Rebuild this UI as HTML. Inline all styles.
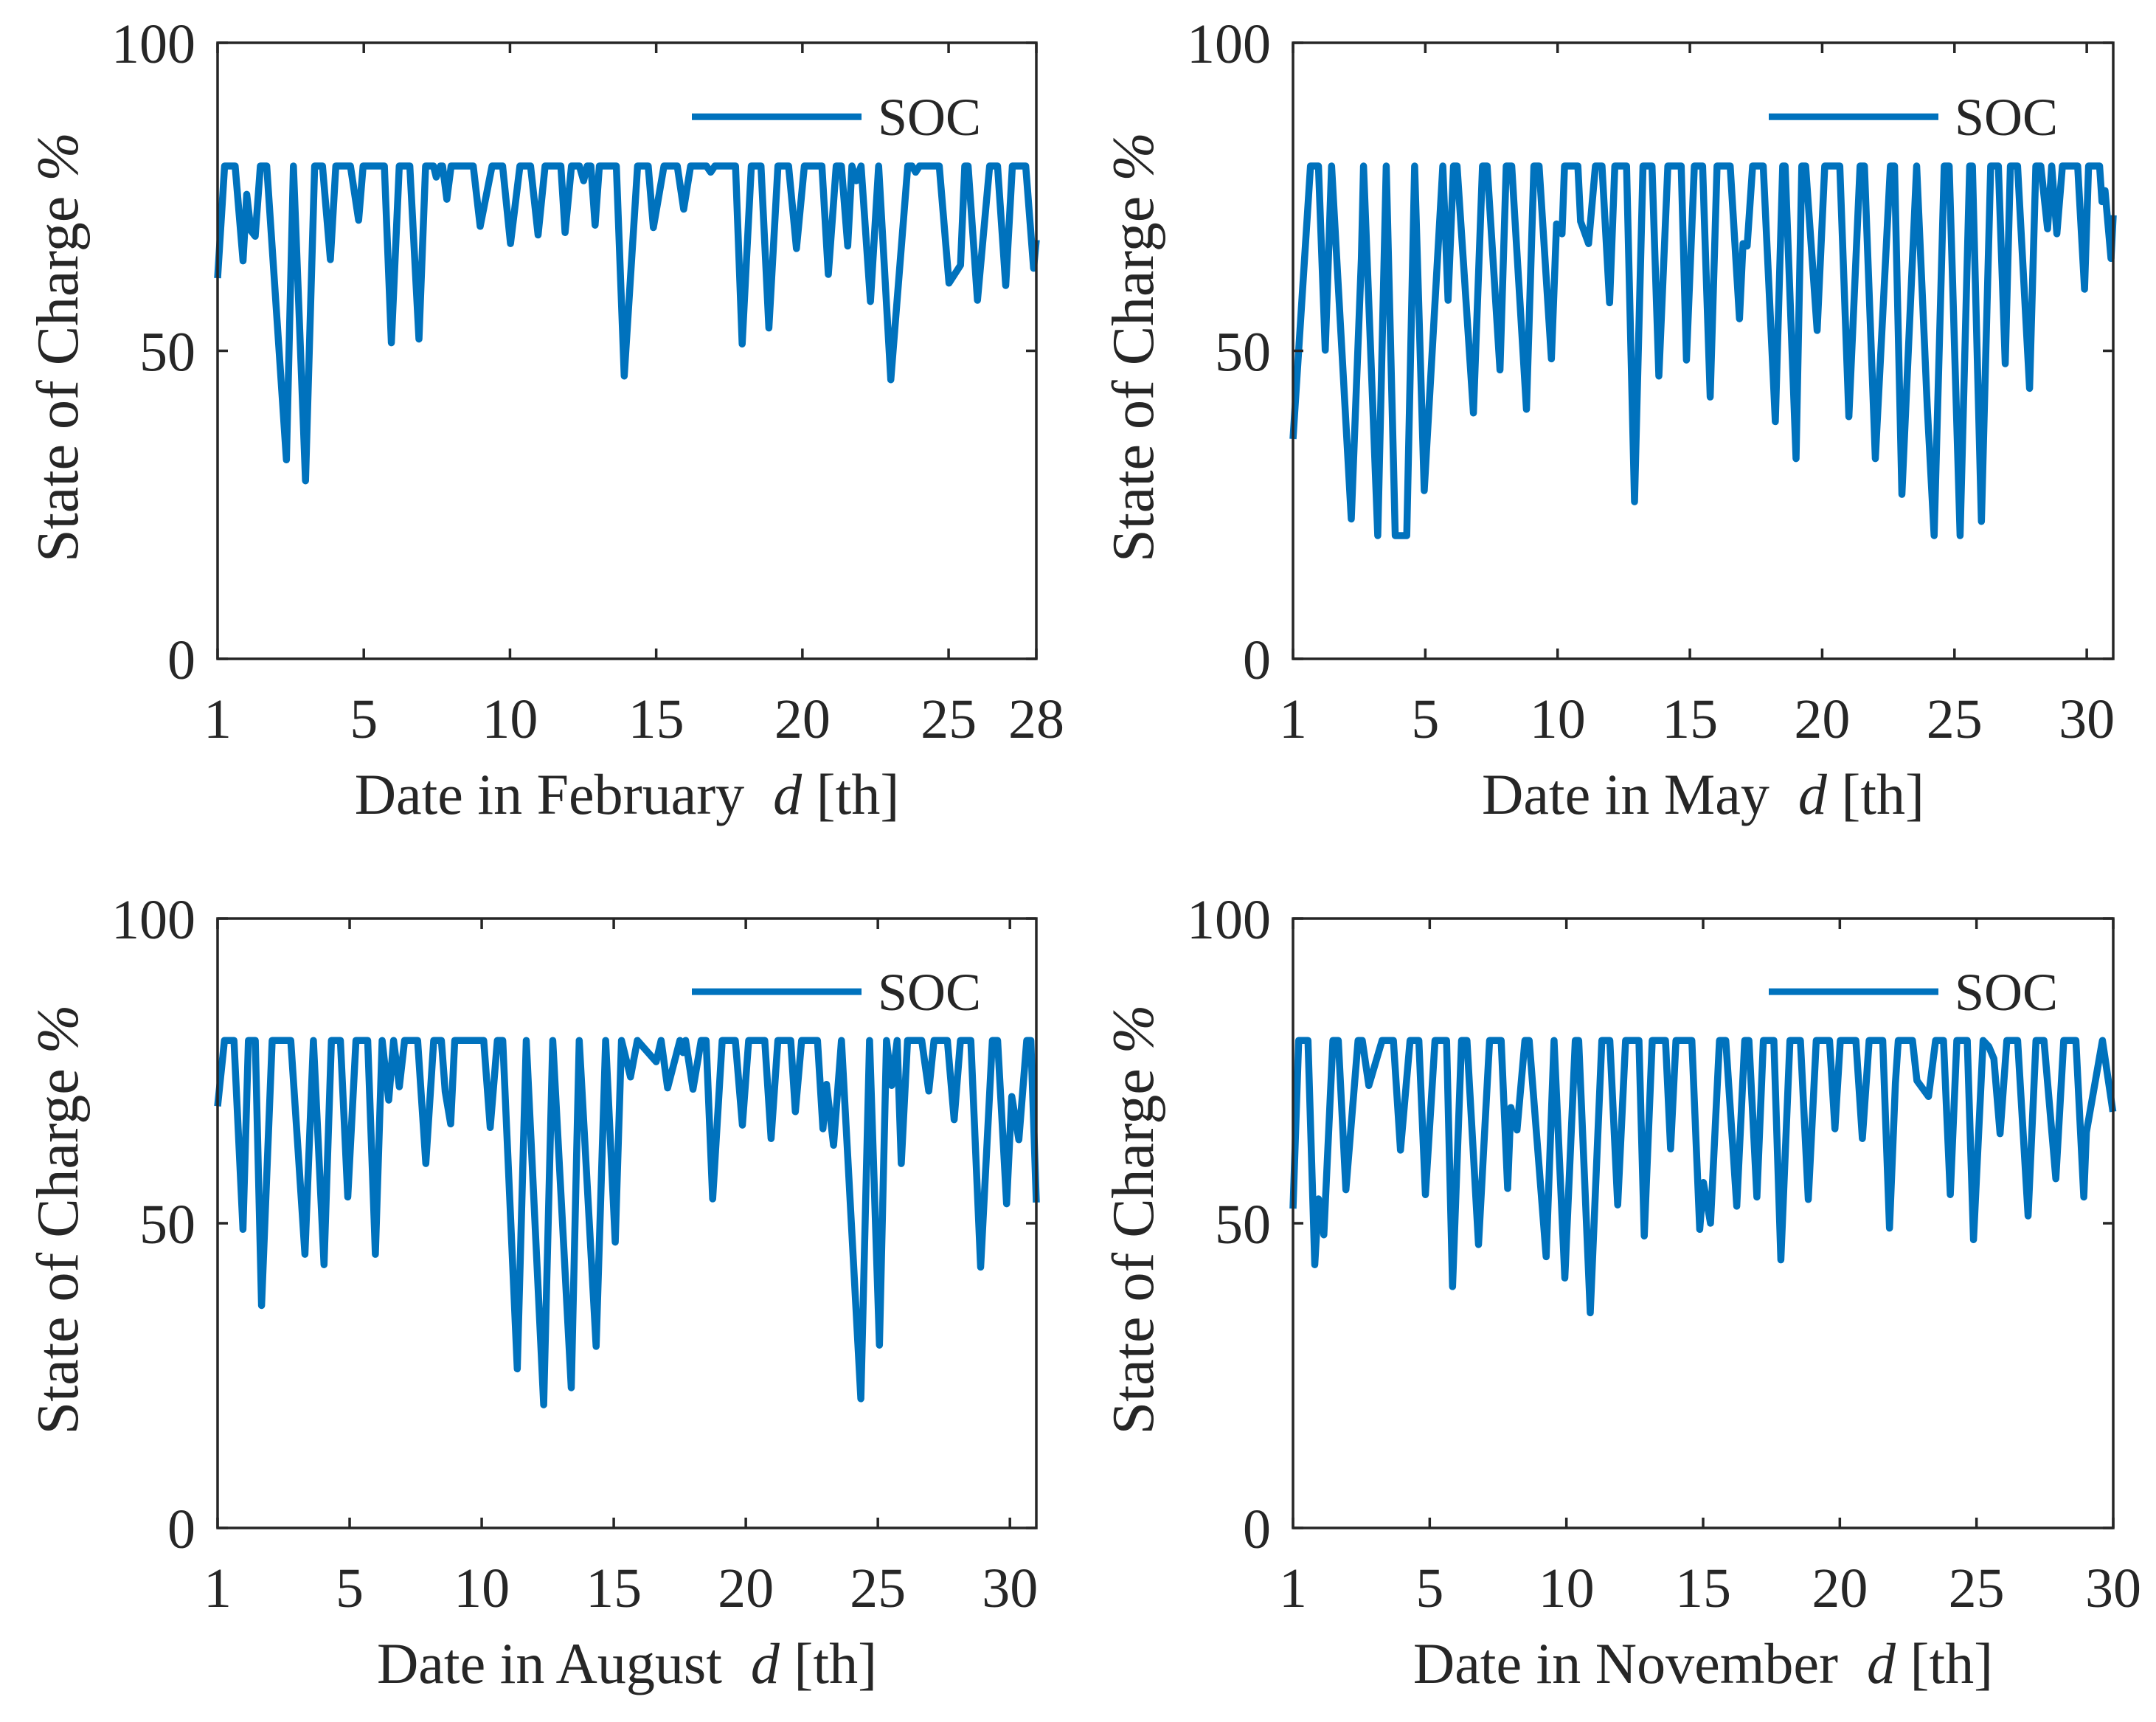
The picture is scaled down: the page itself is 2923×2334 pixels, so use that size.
<!DOCTYPE html>
<html><head><meta charset="utf-8">
<style>
html,body{margin:0;padding:0;background:#fff;}
svg{display:block;}
text{font-family:"Liberation Serif",serif;fill:#262626;}
</style></head>
<body>
<svg id="fig" width="2923" height="2334" viewBox="0 0 2923 2334" xmlns="http://www.w3.org/2000/svg"></svg>
<script>
const febDays=[1.0,1.23,1.58,1.84,1.96,2.1,2.24,2.41,2.62,3.27,3.5,3.9,4.2,4.46,4.72,4.9,5.38,5.65,5.8,6.5,6.73,6.99,7.34,7.64,7.86,8.12,8.21,8.35,8.42,8.56,8.7,9.43,9.66,10.05,10.4,10.66,10.97,11.32,11.57,11.8,12.32,12.46,12.67,12.93,13.07,13.19,13.31,13.45,13.59,14.15,14.41,14.85,15.2,15.37,15.72,16.16,16.37,16.6,17.12,17.26,17.4,18.08,18.3,18.6,18.92,19.18,19.48,19.83,20.09,20.35,20.93,21.14,21.4,21.57,21.78,21.92,22.06,22.22,22.53,22.8,23.2,23.76,23.9,24.02,24.15,24.8,25.12,25.5,25.64,25.75,26.06,26.46,26.72,26.99,27.21,27.65,27.91,28];
const febSoc=[61.8,80,80,64.6,75.4,69.5,68.6,80,80,32.3,80,28.9,80,80,64.8,80,80,71.2,80,80,51.3,80,80,51.9,80,80,78.2,80,80,74.6,80,80,70.2,80,80,67.4,80,80,68.8,80,80,69.2,80,80,77.6,80,80,70.4,80,80,45.9,80,80,70,80,80,73,80,80,79,80,80,51.1,80,80,53.7,80,80,66.6,80,80,62.4,80,80,67,80,77.6,80,58,80,45.3,80,80,79,80,80,61,63.9,80,80,58.2,80,80,60.6,80,80,63.4,68];
const mayDays=[1,1.64,1.93,2.18,2.41,3.13,3.5,3.58,4.1,4.41,4.74,5.16,5.45,5.8,6.48,6.67,6.87,7.0,7.6,7.93,8.1,8.57,8.8,9.0,9.54,9.81,10.0,10.45,10.64,10.84,10.93,11.42,11.52,11.81,12.06,12.3,12.58,12.77,13.2,13.49,13.8,14.13,14.38,14.71,15.2,15.39,15.68,15.98,16.26,16.51,16.99,17.33,17.46,17.61,17.81,18.2,18.64,18.91,19.0,19.4,19.61,19.75,20.17,20.45,21.0,21.33,21.74,21.9,22.3,22.85,23.0,23.27,23.81,24.2,24.45,24.82,25.0,25.4,25.75,25.85,26.18,26.52,26.8,27.05,27.24,27.5,27.94,28.17,28.35,28.6,28.75,28.94,29.14,29.7,29.95,30.1,30.5,30.59,30.7,30.92,31];
const maySoc=[35.7,80,80,50.1,80,22.7,65,80,20,80,20,20,80,27.3,80,58.2,80,80,39.9,80,80,46.9,80,80,40.5,80,80,48.7,70.6,69,80,80,71,67.4,80,80,57.8,80,80,25.5,80,80,45.9,80,80,48.5,80,80,42.5,80,80,55.2,67.4,67,80,80,38.5,80,80,32.5,80,80,53.3,80,80,39.3,80,80,32.5,80,80,26.7,80,40.9,20,80,80,20,80,80,22.3,80,80,47.9,80,80,43.9,80,80,69.8,80,69,80,80,60,80,80,74.2,76,65,72];
const augDays=[1,1.25,1.6,1.93,2.13,2.38,2.61,3.0,3.68,3.95,4.2,4.51,4.9,5.17,5.5,5.77,6.07,6.5,6.78,7.03,7.27,7.45,7.66,7.85,8.33,8.63,8.92,9.2,9.34,9.54,9.69,10.75,10.99,11.25,11.45,11.98,12.31,12.95,13.28,13.96,14.25,14.87,15.22,15.57,15.8,16.13,16.38,17.07,17.25,17.49,17.94,18.05,18.15,18.42,18.72,18.9,19.14,19.49,19.97,20.23,20.46,21.05,21.28,21.53,22.0,22.17,22.4,22.98,23.18,23.31,23.57,23.86,24.57,24.89,25.25,25.51,25.7,25.9,26.05,26.28,26.8,27.06,27.25,27.74,27.99,28.22,28.6,28.96,29.39,29.58,29.91,30.1,30.36,30.65,30.8,31];
const augSoc=[69.2,80,80,49,80,80,36.5,80,80,62,44.9,80,43.2,80,80,54.3,80,80,44.9,80,70.2,80,72.4,80,80,59.8,80,80,71.6,66.3,80,80,65.7,80,80,26.1,80,20.2,80,23,80,29.8,80,46.9,80,74,80,76.5,80,72.2,80,78,80,72,80,80,54,80,80,66.1,80,80,63.9,80,80,68.3,80,80,65.5,72.8,62.8,80,21.2,80,30,80,72.6,80,59.8,80,80,71.7,80,80,67,80,80,42.8,80,80,53.2,70.8,63.7,80,80,53.4];
const novDays=[1,1.2,1.53,1.77,1.9,2.09,2.41,2.6,2.87,3.3,3.45,3.68,4.15,4.55,4.8,5.14,5.45,5.68,6.02,6.43,6.64,6.96,7.15,7.56,7.95,8.36,8.59,8.7,8.92,9.2,9.35,9.95,10.23,10.61,10.98,11.1,11.51,11.92,12.2,12.48,12.76,13.23,13.42,13.7,14.17,14.35,14.54,15.1,15.38,15.51,15.76,16.08,16.3,16.69,16.97,17.12,17.4,17.63,18.0,18.25,18.57,18.94,19.22,19.5,19.97,20.16,20.35,20.9,21.13,21.37,21.85,22.09,22.3,22.4,22.9,23.06,23.47,23.72,24.0,24.24,24.47,24.84,25.06,25.4,25.6,25.78,26.0,26.24,26.62,26.99,27.27,27.55,27.97,28.25,28.68,28.96,29.05,29.62,29.99];
const novSoc=[52.4,80,80,43.2,54,48.1,80,80,55.5,80,80,72.6,80,80,62,80,80,54.7,80,80,39.6,80,80,46.5,80,80,55.7,69,65.3,80,80,44.5,80,41,80,80,35.3,80,80,53,80,80,47.9,80,80,62.2,80,80,49,56.7,50,80,80,52.8,80,80,54.3,80,80,44,80,80,53.9,80,80,65.5,80,80,63.9,80,80,49.2,73,80,80,73.4,70.8,80,80,54.7,80,80,47.3,80,79,77,64.7,80,80,51.2,80,80,57.3,80,80,54.3,64.9,80,68.3];
const febTickPos=[0,5,10,15,20,25,28];
const febTickLabels=['1','5','10','15','20','25','28'];
const monTickPos=[0,5,10,15,20,25,30];
const monTickLabels=['1','5','10','15','20','25','30'];
const yTicks=[0,50,100];

const svg=document.getElementById('fig');
const NS='http://www.w3.org/2000/svg';
function mk(tag,attrs,parent){const e=document.createElementNS(NS,tag);for(const k in attrs)e.setAttribute(k,attrs[k]);(parent||svg).appendChild(e);return e;}

const panels=[
 {id:'february',days:febDays,soc:febSoc,xmax:28,n:28,tp:febTickPos,tl:febTickLabels,box:[295,58,1405,893],title:'Date in February'},
 {id:'may',days:mayDays,soc:maySoc,xmax:31,n:31,tp:monTickPos,tl:monTickLabels,box:[1753,58,2865,893],title:'Date in May'},
 {id:'august',days:augDays,soc:augSoc,xmax:31,n:31,tp:monTickPos,tl:monTickLabels,box:[295,1245,1405,2071],title:'Date in August'},
 {id:'november',days:novDays,soc:novSoc,xmax:30,n:30,tp:monTickPos,tl:monTickLabels,box:[1753,1245,2865,2071],title:'Date in November'}
];

panels.forEach(p=>{
 const [L,T,R,B]=p.box;
 const g=mk('g',{});
 
 
 const xs=d=>L+(d-1)/(p.xmax-1)*(R-L);
 const xt_=t=>L+t/p.n*(R-L);
 const ys=v=>B-v/100*(B-T);
 let dstr='';
 for(let i=0;i<p.days.length;i++){dstr+=(i?'L':'M')+xs(p.days[i]).toFixed(1)+' '+ys(p.soc[i]).toFixed(1);}
 const ln=mk('path',{d:dstr,fill:'none',stroke:'#0072BD','stroke-width':9.5,'stroke-linejoin':'round','stroke-linecap':'butt'},g);
 
 
 const bx=mk('rect',{x:L,y:T,width:R-L,height:B-T,fill:'none',stroke:'#262626','stroke-width':3.5},g);
 
 
 p.tp.forEach((t,i)=>{
  const x=xt_(t);
  const tk=mk('path',{d:`M${x} ${B}V${B-14}M${x} ${T}V${T+14}`,stroke:'#262626','stroke-width':3.5},g);
  
  
  const tl=mk('text',{x:x,y:B+107,'font-size':76,'text-anchor':'middle'},g);
  tl.textContent=p.tl[i];
  
  
 });
 yTicks.forEach(t=>{
  const y=ys(t);
  const tk=mk('path',{d:`M${L} ${y}H${L+14}M${R} ${y}H${R-14}`,stroke:'#262626','stroke-width':3.5},g);
  
  
  const tl=mk('text',{x:L-30,y:y+27,'font-size':76,'text-anchor':'end'},g);
  tl.textContent=t;
  
  
 });
 const xt=mk('text',{x:(L+R)/2,y:B+210,'font-size':78,'text-anchor':'middle'},g);
 
 
 xt.innerHTML=p.title+'\u00a0\u00a0<tspan font-style="italic">d</tspan> [th]';
 const cy=(T+B)/2-5;
 const yt=mk('text',{x:0,y:0,'font-size':80,'text-anchor':'middle',transform:`translate(${L-190},${cy}) rotate(-90)`},g);
 
 
 yt.innerHTML='State of Charge <tspan font-style="italic">%</tspan>';
 const ly=T+(B-T)*0.12;
 const lg=mk('g',{},g);
 
 
 mk('line',{x1:R-467,x2:R-237,y1:ly,y2:ly,stroke:'#0072BD','stroke-width':9},lg);
 const lt=mk('text',{x:R-215,y:ly+25,'font-size':72},lg);
 lt.textContent='SOC';
});
</script>
</body></html>
